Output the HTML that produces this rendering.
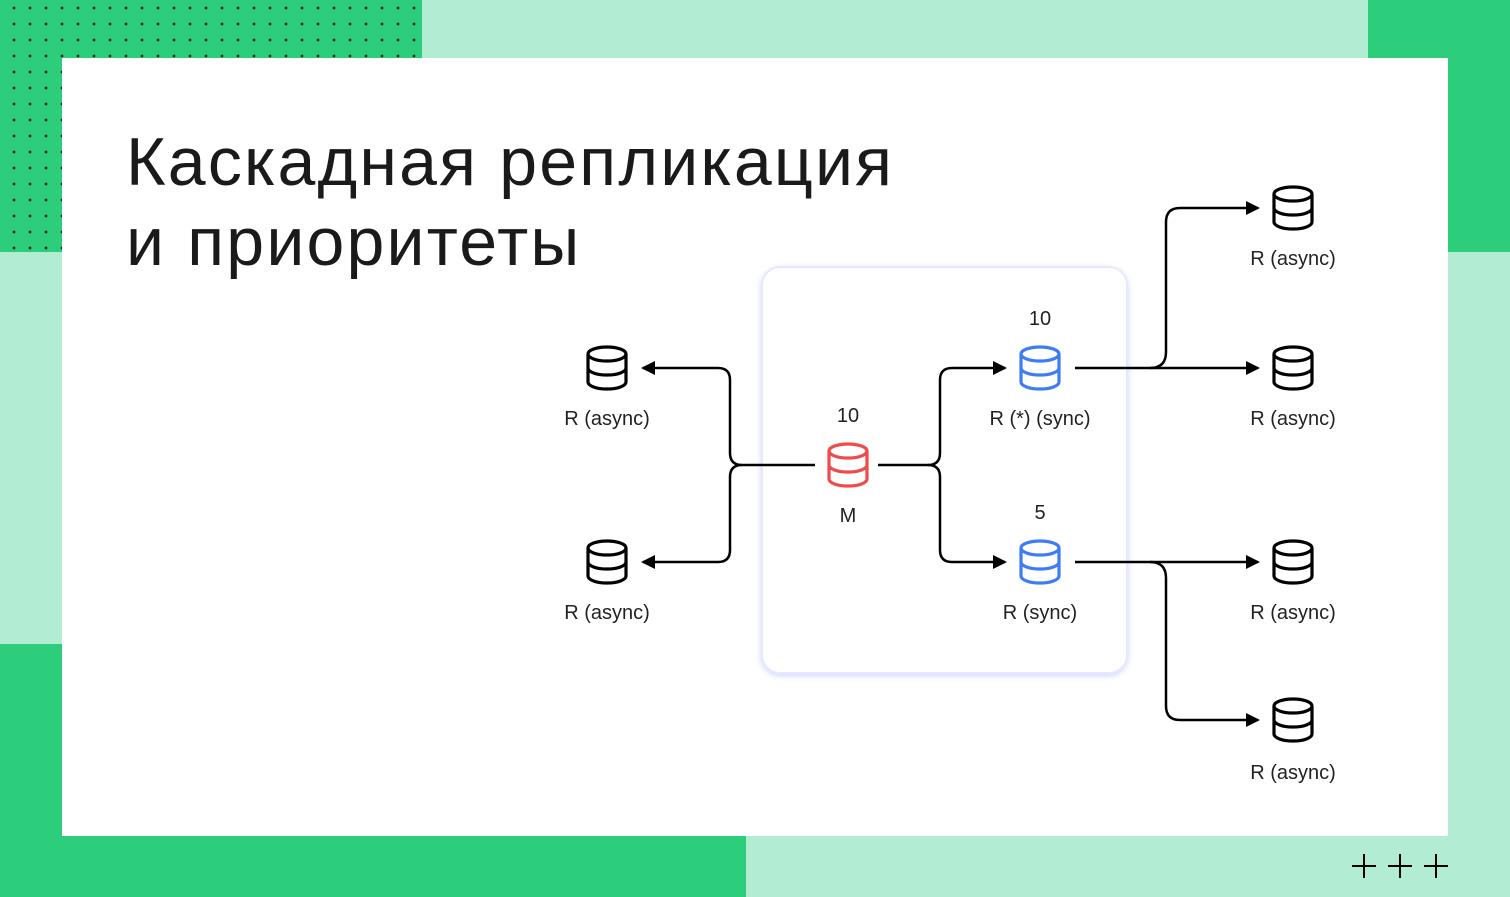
<!DOCTYPE html>
<html><head><meta charset="utf-8"><style>
body{margin:0;width:1510px;height:897px;overflow:hidden;background:#b2ecd2;position:relative;font-family:"Liberation Sans",sans-serif}
.g{position:absolute;background:#2ccd7b}
.dots{position:absolute;left:0;top:0;width:422px;height:252px;background-image:radial-gradient(circle,#10301c 1.2px,transparent 1.6px);background-size:16px 16px;background-position:6px 0px}
.card{position:absolute;left:62px;top:58px;width:1386px;height:778px;background:#fff}
h1{position:absolute;left:126px;top:122px;margin:0;font-weight:400;font-size:68px;line-height:80px;color:#1a1a1a;letter-spacing:2.2px}
</style></head><body>
<div class="g" style="left:0;top:0;width:422px;height:252px"></div>
<div class="dots"></div>
<div class="g" style="left:1368px;top:0;width:142px;height:252px"></div>
<div class="g" style="left:0;top:644px;width:746px;height:253px"></div>
<div class="card"></div>
<h1>Каскадная репликация<br>и приоритеты</h1>
<svg width="1510" height="897" style="position:absolute;left:0;top:0" font-family="Liberation Sans,sans-serif" font-size="20" text-anchor="middle">
<defs>
<filter id="sh" x="-10%" y="-10%" width="120%" height="120%"><feDropShadow dx="0" dy="2" stdDeviation="3" flood-color="#7f8cf0" flood-opacity="0.35"/></filter>
<marker id="a" markerWidth="14" markerHeight="14" refX="12" refY="7" orient="auto" markerUnits="userSpaceOnUse"><path d="M0,0 L14,7 L0,14z" fill="#000"/></marker>
<g id="db" fill="none" stroke-width="3.2"><ellipse cx="0" cy="-14" rx="19" ry="7"/><path d="M-19,-14 V14 A19,7 0 0 0 19,14 V-14 M-19,0 A19,7 0 0 0 19,0"/></g>
</defs>
<rect x="762" y="267" width="365" height="406" rx="18" fill="#fff" stroke="#e6e9fb" stroke-width="2" filter="url(#sh)"/>
<g fill="none" stroke="#000" stroke-width="2.5">
<path d="M815,465 H742 Q730,465 730,453 V380 Q730,368 718,368 H643" marker-end="url(#a)"/>
<path d="M742,465 Q730,465 730,477 V550 Q730,562 718,562 H643" marker-end="url(#a)"/>
<path d="M878,465 H928 Q940,465 940,453 V380 Q940,368 952,368 H1005" marker-end="url(#a)"/>
<path d="M928,465 Q940,465 940,477 V550 Q940,562 952,562 H1005" marker-end="url(#a)"/>
<path d="M1075,368 H1258" marker-end="url(#a)"/>
<path d="M1150,368 Q1166,368 1166,352 V222 Q1166,208 1180,208 H1258" marker-end="url(#a)"/>
<path d="M1075,562 H1258" marker-end="url(#a)"/>
<path d="M1150,562 Q1166,562 1166,578 V706 Q1166,720 1180,720 H1258" marker-end="url(#a)"/>
</g>
<use href="#db" x="607" y="368" stroke="#000"/>
<use href="#db" x="607" y="562" stroke="#000"/>
<use href="#db" x="848" y="465" stroke="#f04a4a"/>
<use href="#db" x="1040" y="368" stroke="#3d7cf5"/>
<use href="#db" x="1040" y="562" stroke="#3d7cf5"/>
<use href="#db" x="1293" y="208" stroke="#000"/>
<use href="#db" x="1293" y="368" stroke="#000"/>
<use href="#db" x="1293" y="562" stroke="#000"/>
<use href="#db" x="1293" y="720" stroke="#000"/>
<g fill="#222">
<text x="607" y="425">R (async)</text>
<text x="607" y="619">R (async)</text>
<text x="848" y="422">10</text>
<text x="848" y="522">M</text>
<text x="1040" y="325">10</text>
<text x="1040" y="425">R (*) (sync)</text>
<text x="1040" y="519">5</text>
<text x="1040" y="619">R (sync)</text>
<text x="1293" y="265">R (async)</text>
<text x="1293" y="425">R (async)</text>
<text x="1293" y="619">R (async)</text>
<text x="1293" y="779">R (async)</text>
</g>
<g stroke="#000" stroke-width="2"><path d="M1352,866 h24 M1364,854 v24 M1388,866 h24 M1400,854 v24 M1424,866 h24 M1436,854 v24"/></g>
</svg>
</body></html>
